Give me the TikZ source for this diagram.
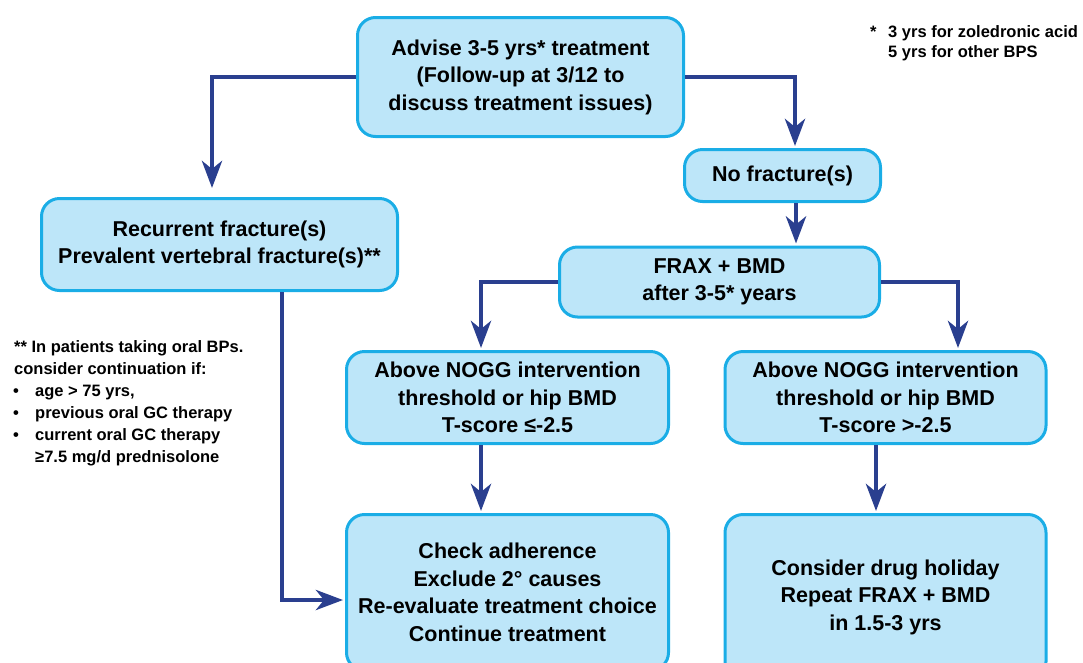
\documentclass[tikz,border=0pt]{standalone}
\usepackage{fontspec}
\setmainfont{Liberation Sans}
\usetikzlibrary{arrows.meta}
\definecolor{boxfill}{HTML}{BDE6F9}
\definecolor{boxline}{HTML}{1AADE6}
\definecolor{arrowc}{HTML}{2A3F8F}
\begin{document}
\begin{tikzpicture}[x=1pt,y=-1pt,
  box/.style={draw=boxline, fill=boxfill, line width=3pt, rounded corners=18pt,
    inner sep=0pt, align=center, font=\bfseries\fontsize{21.5}{27.5}\selectfont},
  arr/.style={draw=arrowc, line width=4.8pt, line join=miter,
    -{Stealth[length=27pt,width=20pt,inset=8pt]}, shorten >=2pt},
  note/.style={inner sep=0pt, anchor=base west, font=\bfseries\fontsize{16.5}{22}\selectfont}]
\useasboundingbox (0,0) rectangle (1083,662);
\clip (0,0) rectangle (1083,662);
% boxes
\node[box, minimum width=326pt, minimum height=119pt] (top) at (520.5,77)
  {Advise 3-5 yrs* treatment\\(Follow-up at 3/12 to\\discuss treatment issues)};
\node[box, minimum width=196pt, minimum height=52pt] (nofrac) at (782.5,175.5) {No fracture(s)};
\node[box, minimum width=356pt, minimum height=92pt] (rec) at (219.5,244.5)
  {Recurrent fracture(s)\\Prevalent vertebral fracture(s)**};
\node[box, minimum width=320pt, minimum height=70pt] (frax) at (719.5,282)
  {FRAX + BMD\\after 3-5* years};
\node[box, minimum width=322pt, minimum height=92pt] (noggL) at (507.5,397.5)
  {Above NOGG intervention\\threshold or hip BMD\\T-score ≤-2.5};
\node[box, minimum width=321pt, minimum height=92pt] (noggR) at (885.5,397.5)
  {Above NOGG intervention\\threshold or hip BMD\\T-score >-2.5};
\node[box, minimum width=322pt, minimum height=156pt] (check) at (507.5,592.5)
  {Check adherence\\Exclude 2° causes\\Re-evaluate treatment choice\\Continue treatment};
\node[box, minimum width=321pt, minimum height=165pt] (cons) at (885.5,597)
  {Consider drug holiday\\Repeat FRAX + BMD\\in 1.5-3 yrs};
% connectors
\draw[arr, shorten >=9pt] (top.west) -| ([xshift=-7.5pt]rec.north);
\draw[arr] (top.east) -| ([xshift=12.5pt]nofrac.north);
\draw[arr] ([xshift=13.5pt]nofrac.south) -- ([xshift=13.5pt]nofrac.south |- frax.north);
\draw[arr] (frax.west) -| ([xshift=-26.5pt]noggL.north);
\draw[arr] (frax.east) -| ([xshift=72.5pt]noggR.north);
\draw[arr] ([xshift=-26.5pt]noggL.south) -- ([xshift=-26.5pt]noggL.south |- check.north);
\draw[arr] ([xshift=-9.5pt]noggR.south) -- ([xshift=-9.5pt]noggR.south |- cons.north);
\draw[arr] ([xshift=62.5pt]rec.south) |- ([yshift=-7.5pt]check.west);
% footnotes
\node[note] (fstar) at (870,37) {*};
\node[note] (fa) at (888,37) {3 yrs for zoledronic acid};
\node[note] (fb) at (888,57) {5 yrs for other BPS};
\node[note] (n1) at (14,352) {** In patients taking oral BPs.};
\node[note] (n2) at (14,374) {consider continuation if:};
\node[note] (b1) at (13,396) {•};
\node[note] (n3) at (35,396) {age > 75 yrs,};
\node[note] (b2) at (13,418) {•};
\node[note] (n4) at (35,418) {previous oral GC therapy};
\node[note] (b3) at (13,440) {•};
\node[note] (n5) at (35,440) {current oral GC therapy};
\node[note] (n6) at (35,462) {≥7.5 mg/d prednisolone};
\end{tikzpicture}
\end{document}
